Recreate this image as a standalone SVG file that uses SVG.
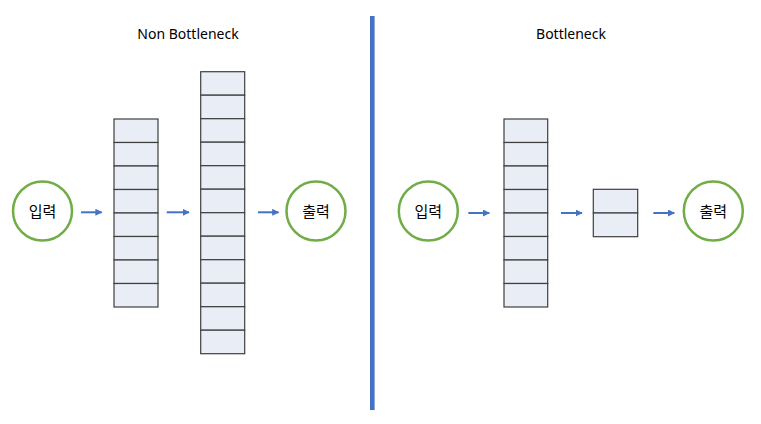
<svg xmlns="http://www.w3.org/2000/svg" width="761" height="424" viewBox="0 0 761 424">
<defs>
<style>
.circ{fill:#fff;stroke:#70AD47;stroke-width:2.5}
.lbl{font-family:"Noto Sans CJK KR","Noto Sans",sans-serif;font-size:15px;fill:#000;text-anchor:middle}
.title{font-family:"Noto Sans","Noto Sans CJK KR",sans-serif;font-size:14px;fill:#000;text-anchor:middle}
.cell{fill:#E9EDF6;stroke:#3F3F3F;stroke-width:1.2}
.arr{stroke:#4472C4;stroke-width:2;fill:none;marker-end:url(#ah)}
</style>
<marker id="ah" viewBox="0 0 10 10" refX="9" refY="5" markerWidth="3.5" markerHeight="3.5" orient="auto" markerUnits="strokeWidth">
<path d="M0,0 L10,5 L0,10 z" fill="#4472C4"/>
</marker>
</defs>
<rect width="761" height="424" fill="#fff"/>
<text class="title" x="188" y="39">Non Bottleneck</text>
<text class="title" x="571" y="39">Bottleneck</text>
<rect x="370" y="16" width="4.6" height="394" fill="#4472C4"/>
<g id="in1"><circle class="circ" cx="42.5" cy="211" r="29.5"/><text class="lbl" x="42.5" y="216.5">입력</text></g>
<g id="stack1">
<rect class="cell" x="114" y="119" width="44" height="23.5"/>
<rect class="cell" x="114" y="142.5" width="44" height="23.5"/>
<rect class="cell" x="114" y="166" width="44" height="23.5"/>
<rect class="cell" x="114" y="189.5" width="44" height="23.5"/>
<rect class="cell" x="114" y="213" width="44" height="23.5"/>
<rect class="cell" x="114" y="236.5" width="44" height="23.5"/>
<rect class="cell" x="114" y="260" width="44" height="23.5"/>
<rect class="cell" x="114" y="283.5" width="44" height="23.5"/>
</g>
<g id="stack2">
<rect class="cell" x="200.7" y="71.7" width="44" height="23.5"/>
<rect class="cell" x="200.7" y="95.2" width="44" height="23.5"/>
<rect class="cell" x="200.7" y="118.7" width="44" height="23.5"/>
<rect class="cell" x="200.7" y="142.2" width="44" height="23.5"/>
<rect class="cell" x="200.7" y="165.7" width="44" height="23.5"/>
<rect class="cell" x="200.7" y="189.2" width="44" height="23.5"/>
<rect class="cell" x="200.7" y="212.7" width="44" height="23.5"/>
<rect class="cell" x="200.7" y="236.2" width="44" height="23.5"/>
<rect class="cell" x="200.7" y="259.7" width="44" height="23.5"/>
<rect class="cell" x="200.7" y="283.2" width="44" height="23.5"/>
<rect class="cell" x="200.7" y="306.7" width="44" height="23.5"/>
<rect class="cell" x="200.7" y="330.2" width="44" height="23.5"/>
</g>
<g id="out1"><circle class="circ" cx="316" cy="211" r="29.5"/><text class="lbl" x="316" y="216.5">출력</text></g>
<g id="in2"><circle class="circ" cx="428.3" cy="211" r="29.5"/><text class="lbl" x="428.3" y="216.5">입력</text></g>
<g id="stack3">
<rect class="cell" x="504" y="119" width="43.7" height="23.5"/>
<rect class="cell" x="504" y="142.5" width="43.7" height="23.5"/>
<rect class="cell" x="504" y="166" width="43.7" height="23.5"/>
<rect class="cell" x="504" y="189.5" width="43.7" height="23.5"/>
<rect class="cell" x="504" y="213" width="43.7" height="23.5"/>
<rect class="cell" x="504" y="236.5" width="43.7" height="23.5"/>
<rect class="cell" x="504" y="260" width="43.7" height="23.5"/>
<rect class="cell" x="504" y="283.5" width="43.7" height="23.5"/>
</g>
<g id="stack4">
<rect class="cell" x="593.3" y="189.3" width="44.4" height="23.7"/>
<rect class="cell" x="593.3" y="213" width="44.4" height="23.7"/>
</g>
<g id="out2"><circle class="circ" cx="713.3" cy="211" r="29.5"/><text class="lbl" x="713.3" y="216.5">출력</text></g>
<g id="connectors">
<line class="arr" x1="81" y1="212.3" x2="101.7" y2="212.3"/>
<line class="arr" x1="166.7" y1="212.3" x2="189" y2="212.3"/>
<line class="arr" x1="258" y1="212.3" x2="278.5" y2="212.3"/>
<line class="arr" x1="468.3" y1="213" x2="489.3" y2="213"/>
<line class="arr" x1="561" y1="213" x2="582" y2="213"/>
<line class="arr" x1="653.3" y1="213" x2="674.3" y2="213"/>
</g>
</svg>
